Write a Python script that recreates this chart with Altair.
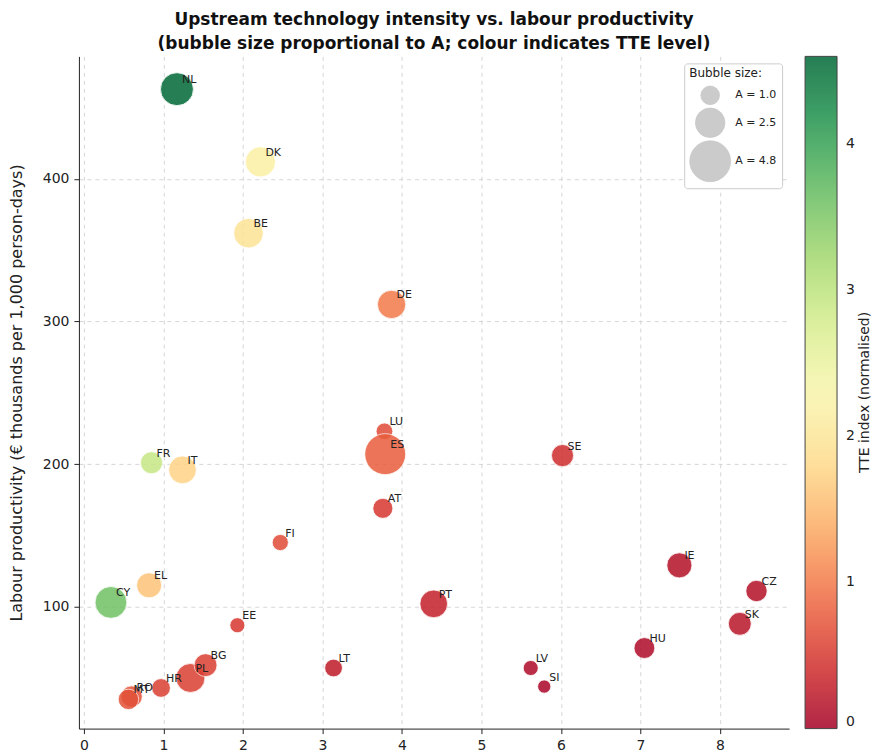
import altair as alt
import pandas as pd

countries = ["NL", "DK", "BE", "DE", "LU", "ES", "AT", "SE", "FR", "IT", "FI", "EL", "CY",
             "EE", "PT", "LT", "LV", "SI", "HU", "IE", "CZ", "SK", "RO", "MT", "HR", "PL", "BG"]
upstream = [1.17, 2.22, 2.07, 3.87, 3.78, 3.79, 3.76, 6.02, 0.85, 1.24, 2.47, 0.82, 0.34,
            1.93, 4.40, 3.14, 5.62, 5.79, 7.05, 7.49, 8.46, 8.25, 0.60, 0.56, 0.97, 1.34, 1.53]
productivity = [463, 412, 362, 312, 223, 207, 169, 206, 201, 196, 145, 115, 103,
                87, 102, 57, 57, 44, 71, 129, 111, 88, 37, 35, 43, 50, 59]
size_a = [3.1, 2.6, 2.5, 2.3, 0.8, 4.8, 1.15, 1.4, 1.4, 2.2, 0.75, 1.8, 2.9,
          0.65, 2.2, 0.9, 0.65, 0.5, 1.25, 1.8, 1.3, 1.5, 1.3, 1.2, 1.0, 2.4, 1.5]
tte = [4.6, 2.15, 1.95, 1.0, 0.65, 0.8, 0.5, 0.4, 2.9, 1.75, 0.65, 1.6, 3.6,
       0.5, 0.3, 0.25, 0.1, 0.05, 0.1, 0.15, 0.15, 0.2, 0.7, 0.7, 0.55, 0.55, 0.55]

df = pd.DataFrame({"country": countries, "x": upstream, "y": productivity,
                   "A": size_a, "TTE": tte})
cbar_title = pd.DataFrame({"t": ["TTE index (normalised)"]})

FONT = "DejaVu Sans"
W, H = 711, 673

xs = alt.Scale(domain=[-0.063, 8.87], nice=False, zero=False)
ys = alt.Scale(domain=[14.5, 486], nice=False, zero=False)

base = alt.Chart(df)

bubbles = base.mark_circle(opacity=0.85, stroke="white", strokeWidth=0.8).encode(
    x=alt.X("x:Q", scale=xs, axis=alt.Axis(title=None, values=list(range(0, 9)), format="d")),
    y=alt.Y("y:Q", scale=ys, axis=alt.Axis(
        title="Labour productivity (€ thousands per 1,000 person-days)",
        values=[100, 200, 300, 400], format="d", titlePadding=18)),
    size=alt.Size("A:Q", scale=alt.Scale(domain=[0, 4.8], range=[0, 1681], zero=True),
                  legend=alt.Legend(title="Bubble size:", values=[1.0, 2.5, 4.8],
                                    labelExpr="'A = ' + format(datum.value, '.1f')",
                                    orient="top-right", offset=7, rowPadding=0,
                                    symbolFillColor="#999999", symbolOpacity=0.5,
                                    symbolStrokeColor="#888888", symbolStrokeWidth=0.6,
                                    fillColor="white", strokeColor="#cccccc",
                                    padding=5, cornerRadius=3, labelOffset=4,
                                    titleFontSize=12, titleFontWeight="normal",
                                    labelFontSize=11, titleColor="#222", labelColor="#222")),
    color=alt.Color("TTE:Q", scale=alt.Scale(scheme="redyellowgreen", domain=[0, 4.6]),
                    legend=alt.Legend(title=None, orient="right", format="d",
                                      direction="vertical", values=[0, 1, 2, 3, 4],
                                      gradientLength=H, gradientThickness=32,
                                      gradientStrokeColor="#222", gradientStrokeWidth=1,
                                      labelFontSize=14, labelColor="#222", offset=16,
                                      labelOffset=9)),
)

labels = base.mark_text(align="left", baseline="middle", dx=5, dy=-9,
                        fontSize=11, color="#222", font=FONT).encode(
    x=alt.X("x:Q", scale=xs),
    y=alt.Y("y:Q", scale=ys),
    text="country:N",
)

ctitle = alt.Chart(cbar_title).mark_text(angle=270, fontSize=14, color="#222", font=FONT,
                                         align="center", baseline="middle").encode(
    text="t:N", x=alt.value(W + 76), y=alt.value(H / 2))

chart = alt.layer(bubbles, labels, ctitle).properties(
    width=W, height=H,
    padding={"left": 0, "top": 3, "right": 0, "bottom": 0},
    title=alt.TitleParams(
        text=["Upstream technology intensity vs. labour productivity",
              "(bubble size proportional to A; colour indicates TTE level)"],
        fontSize=17, lineHeight=24, fontWeight="bold", font=FONT, color="#111",
        anchor="middle", offset=3),
).configure(font=FONT).configure_view(stroke=None).configure_axis(
    grid=True, gridDash=[4, 4], gridColor="#cccccc", gridWidth=0.8,
    domainColor="#222", tickColor="#222", labelFontSize=14, labelColor="#222",
    titleFontSize=16, titleFontWeight="normal", titleColor="#222",
    tickSize=5, labelPadding=5,
    labelFont=FONT, titleFont=FONT,
).configure_legend(labelFont=FONT, titleFont=FONT)

chart.save("out.html", embed_options={"renderer": "svg", "actions": False})
